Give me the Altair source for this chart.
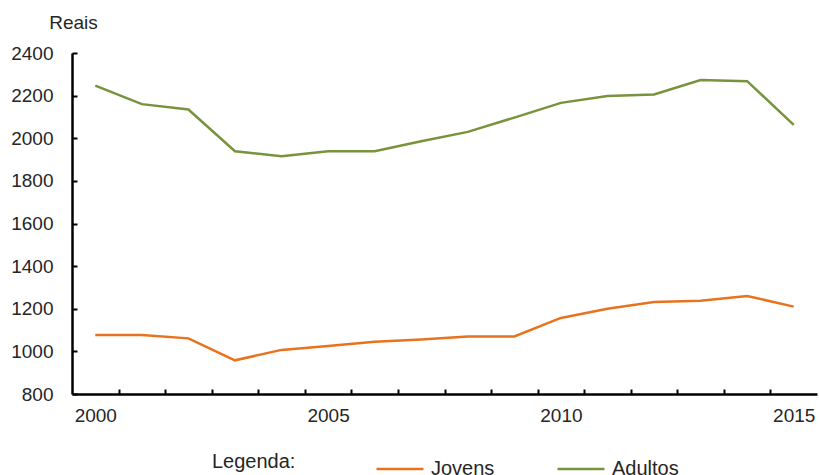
import altair as alt
import pandas as pd

years = list(range(2000, 2016))
jovens = [1077, 1077, 1061, 958, 1007, 1025, 1045, 1056, 1070, 1070, 1157, 1200, 1232, 1237, 1260, 1210]
adultos = [2247, 2160, 2135, 1939, 1915, 1939, 1939, 1986, 2030, 2097, 2166, 2198, 2205, 2273, 2268, 2063]
series_names = ["Jovens", "Adultos"]
series_colors = ["#E8731E", "#77933C"]
x_label_years = [2000, 2005, 2010, 2015]
y_ticks = [800, 1000, 1200, 1400, 1600, 1800, 2000, 2200, 2400]

rows = []
for y, j, a in zip(years, jovens, adultos):
    rows.append({"Ano": y, "Serie": "Jovens", "Valor": j})
    rows.append({"Ano": y, "Serie": "Adultos", "Valor": a})
df = pd.DataFrame(rows)

W, H = 745, 341
FONT = "Liberation Sans"
TXT = "#262626"

x_scale = alt.Scale(domain=[1999.5, 2015.5], nice=False, zero=False)
y_scale = alt.Scale(domain=[800, 2400], nice=False, zero=False)
color_scale = alt.Scale(domain=series_names, range=series_colors)

main = alt.Chart(df).mark_line(strokeWidth=2.5).encode(
    x=alt.X("Ano:Q", scale=x_scale,
            axis=alt.Axis(values=x_label_years, format="d", ticks=False, tickSize=0,
                          grid=False, domain=True, domainColor="black", domainWidth=2.5,
                          labelFont=FONT, labelFontSize=19, labelColor=TXT,
                          labelPadding=12, title=None, orient="bottom")),
    y=alt.Y("Valor:Q", scale=y_scale,
            axis=alt.Axis(values=y_ticks, format="d", ticks=False, tickSize=0, grid=False,
                          domain=True, domainColor="black", domainWidth=2.5,
                          labelFont=FONT, labelFontSize=19, labelColor=TXT,
                          labelPadding=19, title="Reais", titleAngle=0,
                          titleFont=FONT, titleFontSize=19, titleFontWeight="normal",
                          titleColor=TXT, titleX=1, titleY=-31,
                          titleAlign="center", titleBaseline="middle", orient="left")),
    color=alt.Color("Serie:N", scale=color_scale, sort=series_names,
                    legend=alt.Legend(orient="none", legendX=140, legendY=391,
                                      direction="horizontal", title="Legenda:",
                                      titleOrient="left", titleFont=FONT, titleFontSize=20,
                                      titleFontWeight="normal", titleColor=TXT,
                                      titlePadding=79, titleBaseline="middle",
                                      labelFont=FONT, labelFontSize=20, labelColor=TXT,
                                      labelOffset=6, symbolType="stroke", symbolSize=2209,
                                      symbolStrokeWidth=2.5, columnPadding=57)),
)

tick_years = [y + 0.5 for y in years[:-1]]
ticks_layer = alt.Chart(df).mark_line(opacity=0).encode(
    x=alt.X("Ano:Q", scale=x_scale,
            axis=alt.Axis(values=tick_years, labels=False, ticks=True, tickSize=5,
                          tickWidth=2, tickColor="black", domain=False, grid=False,
                          title=None, orient="top", offset=-H)),
    y=alt.Y("Valor:Q", scale=y_scale,
            axis=alt.Axis(values=y_ticks, labels=False, ticks=True, tickSize=5,
                          tickWidth=2, tickColor="black", domain=False, grid=False,
                          title=None, orient="right", offset=-W)),
    color=alt.Color("Serie:N", scale=color_scale, legend=None),
)

chart = alt.layer(main, ticks_layer).resolve_axis(x="independent", y="independent").properties(
    width=W, height=H,
    autosize=alt.AutoSizeParams(type="none"),
    padding={"left": 72, "top": 53, "right": 2, "bottom": 81},
).configure(background="white").configure_view(stroke=None, strokeWidth=0)

chart.save("out.html", embed_options={"renderer": "svg", "actions": False})
